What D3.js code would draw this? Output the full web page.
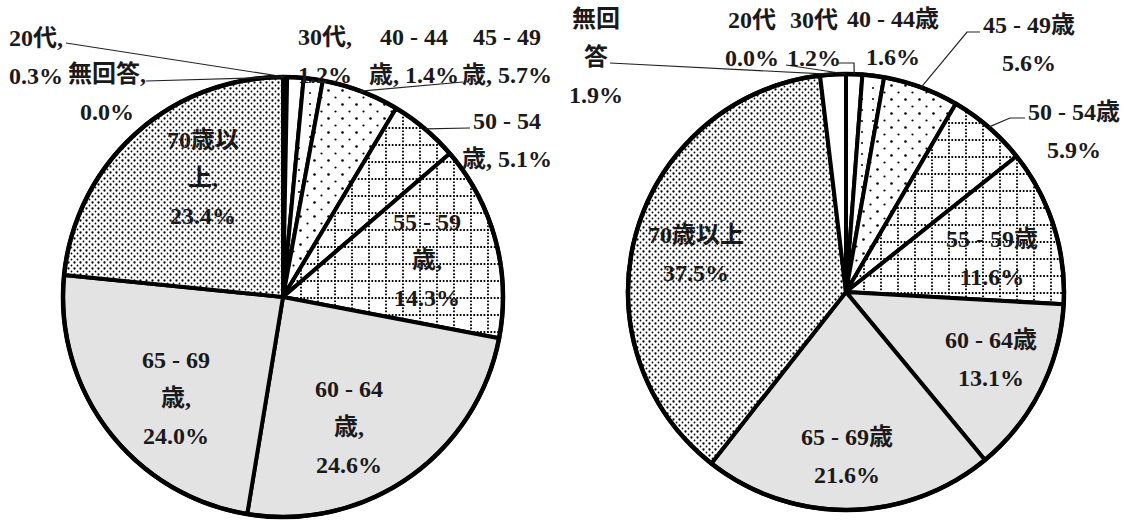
<!DOCTYPE html>
<html>
<head>
<meta charset="utf-8">
<script src="https://cdn.jsdelivr.net/npm/d3@7"></script>
<style>
  body { margin: 0; background: #fff; }
  svg text {
    font-family: "Liberation Serif", "Noto Sans CJK JP", serif;
    font-size: 24px;
    font-weight: bold;
    fill: #1a1a1a;
  }
</style>
</head>
<body>
<svg id="chart" width="1129" height="520"></svg>
<script>
// data
const categories = ["20代", "30代", "40 - 44歳", "45 - 49歳", "50 - 54歳",
  "55 - 59歳", "60 - 64歳", "65 - 69歳", "70歳以上", "無回答"];
const leftValues = [0.3, 1.2, 1.4, 5.7, 5.1, 14.3, 24.6, 24.0, 23.4, 0.0];
const rightValues = [0.0, 1.2, 1.6, 5.6, 5.9, 11.6, 13.1, 21.6, 37.5, 1.9];

// fill per category (pattern ids)
const fillNames = ["black", "white", "url(#pSparse)", "url(#pMid)", "url(#pGrid)",
  "url(#pGrid)", "#e3e3e3", "#e3e3e3", "url(#pDense)", "white"];
const fillScale = d3.scaleOrdinal(categories, fillNames);
const pct = d3.format(".1f");

const svg = d3.select("#chart");
const defs = svg.append("defs");

//patterns
const sparse = defs.append("pattern").attr("id", "pSparse")
  .attr("patternUnits", "userSpaceOnUse").attr("width", 11).attr("height", 11);
sparse.append("rect").attr("width", 11).attr("height", 11).attr("fill", "#fff");
sparse.append("circle").attr("cx", 5).attr("cy", 5).attr("r", 1).attr("fill", "#000");

const mid = defs.append("pattern").attr("id", "pMid")
  .attr("patternUnits", "userSpaceOnUse").attr("width", 14).attr("height", 14);
mid.append("rect").attr("width", 14).attr("height", 14).attr("fill", "#fff");
mid.append("circle").attr("cx", 3.5).attr("cy", 3.5).attr("r", 1.3).attr("fill", "#000");
mid.append("circle").attr("cx", 10.5).attr("cy", 10.5).attr("r", 1.1).attr("fill", "#000");

const grid = defs.append("pattern").attr("id", "pGrid")
  .attr("patternUnits", "userSpaceOnUse").attr("width", 17).attr("height", 17);
grid.append("rect").attr("width", 17).attr("height", 17).attr("fill", "#fff");
grid.append("path").attr("d", "M0,1H17M1,0V17")
  .attr("stroke", "#000").attr("stroke-width", 1.8).attr("stroke-dasharray", "1.7 1.7");

const dense = defs.append("pattern").attr("id", "pDense")
  .attr("patternUnits", "userSpaceOnUse").attr("width", 6).attr("height", 6);
dense.append("rect").attr("width", 6).attr("height", 6).attr("fill", "#fff");
dense.append("circle").attr("cx", 1.5).attr("cy", 1.5).attr("r", 1.15).attr("fill", "#000");
dense.append("circle").attr("cx", 4.5).attr("cy", 4.5).attr("r", 0.9).attr("fill", "#000");

// label layout: x, first baseline, break points, leader start points
const leftLayout = [
  { x: 36, y: 46, br: [4], lead: [[66, 43]] },
  { x: 325, y: 45, br: [4] },
  { x: 414, y: 45, br: [7] },
  { x: 507, y: 45, br: [7], lead: [[463, 82]] },
  { x: 507, y: 129, br: [7], lead: [[470, 128]] },
  { x: 427, y: 230, br: [7, 9] },
  { x: 349, y: 397, br: [7, 9] },
  { x: 176, y: 368, br: [7, 9] },
  { x: 203, y: 148, br: [4, 6] },
  { x: 107, y: 82, br: [4], lead: [[146, 81]] }
];
const rightLayout = [
  { x: 752, y: 28, br: [3], lead: [[786, 65]] },
  { x: 814, y: 28, br: [3], lead: [[838, 63], [854, 63]] },
  { x: 893, y: 27, br: [8] },
  { x: 1029, y: 33, br: [8], lead: [[980, 32], [967, 32]] },
  { x: 1074, y: 120, br: [8], lead: [[1025, 118], [1010, 118]] },
  { x: 992, y: 247, br: [8] },
  { x: 991, y: 348, br: [8] },
  { x: 847, y: 445, br: [8] },
  { x: 696, y: 243, br: [5] },
  { x: 596, y: 27, br: [2, 3], lead: [[610, 63]] }
];

const lineGap = 38;

const drawPie = (values, cx, cy, r, layout, sep) => {
  const pie = d3.pie().sort(null).value((d) => d)(values);
  const arc = d3.arc().innerRadius(0).outerRadius(r);
  const g = svg.append("g").attr("transform", `translate(${cx},${cy})`);

  g.selectAll("path.slice")
    .data(pie)
    .join("path")
    .attr("class", "slice")
    .attr("d", arc)
    .attr("fill", (d, i) => fillScale(categories[i]))
    .attr("stroke", "#000")
    .attr("stroke-width", 4)
    .attr("stroke-linejoin", "round");

  g.append("circle").attr("r", r).attr("fill", "none")
    .attr("stroke", "#000").attr("stroke-width", 4.5);

  //leaders
  pie.forEach((d, i) => {
    const spec = layout[i];
    if (!spec.lead) return;
    const a = (d.startAngle + d.endAngle) / 2;
    const end = [cx + r * Math.sin(a), cy - r * Math.cos(a)];
    svg.append("path")
      .attr("d", d3.line()([...spec.lead, end]))
      .attr("fill", "none")
      .attr("stroke", "#222")
      .attr("stroke-width", 1.2);
  });

  //labels
  pie.forEach((d, i) => {
    const spec = layout[i];
    const full = categories[i] + sep + pct(values[i]) + "%";
    const cuts = [0, ...spec.br, full.length];
    const lines = d3.pairs(cuts).map(([a, b]) => full.slice(a, b).trim());
    const t = svg.append("text").attr("text-anchor", "middle");
    lines.forEach((ln, k) => {
      t.append("tspan").attr("x", spec.x).attr("y", spec.y + k * lineGap).text(ln);
    });
  });
};

drawPie(leftValues, 283, 297, 220, leftLayout, ", ");
drawPie(rightValues, 846, 292, 218, rightLayout, " ");
</script>
</body>
</html>
